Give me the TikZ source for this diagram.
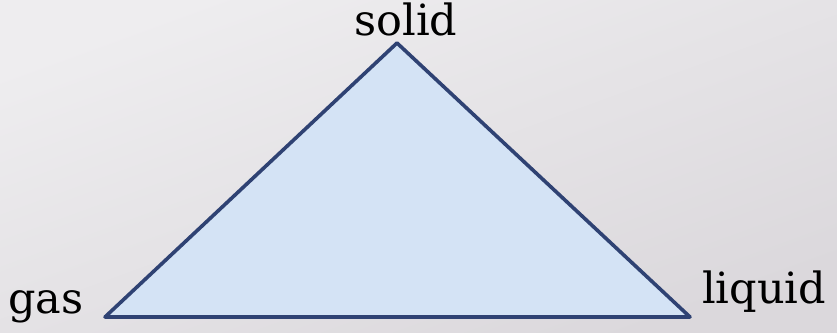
\documentclass[tikz,border=0pt]{standalone}
\usepackage{fontspec}
\setmainfont{DejaVu Serif}
\usetikzlibrary{positioning}
\definecolor{bglight}{RGB}{238, 237, 239}
\definecolor{bgshade}{RGB}{219, 216, 220}
\definecolor{phasefill}{RGB}{212, 227, 245}
\definecolor{phaseline}{RGB}{47, 66, 115}
\tikzset{
    phase/.style={draw=phaseline, fill=phasefill, line width=3.6pt, line join=round},
    state/.style={inner sep=0pt, text=black, font=\fontsize{43}{45}\selectfont}
}

\begin{document}
\begin{tikzpicture}[x=1pt, y=-1pt]
            \shade [left color=bglight, right color=bgshade, shading angle=20] (0,0) rectangle (837,332);
            \useasboundingbox (0,0) rectangle (837,332);
            \coordinate (top) at (397,43);
            \coordinate (left) at (105,317);
            \coordinate (right) at (690,317);
            \draw [phase] (top) -- (right) -- (left) -- cycle;
            \node (solid) [state, anchor=base] at (406,35) {solid};
            \node (gas) [state, anchor=base west] at (8,313) {gas};
            \node (liquid) [state, anchor=base west] at (702,303) {liquid};
        \end{tikzpicture}
\end{document}
